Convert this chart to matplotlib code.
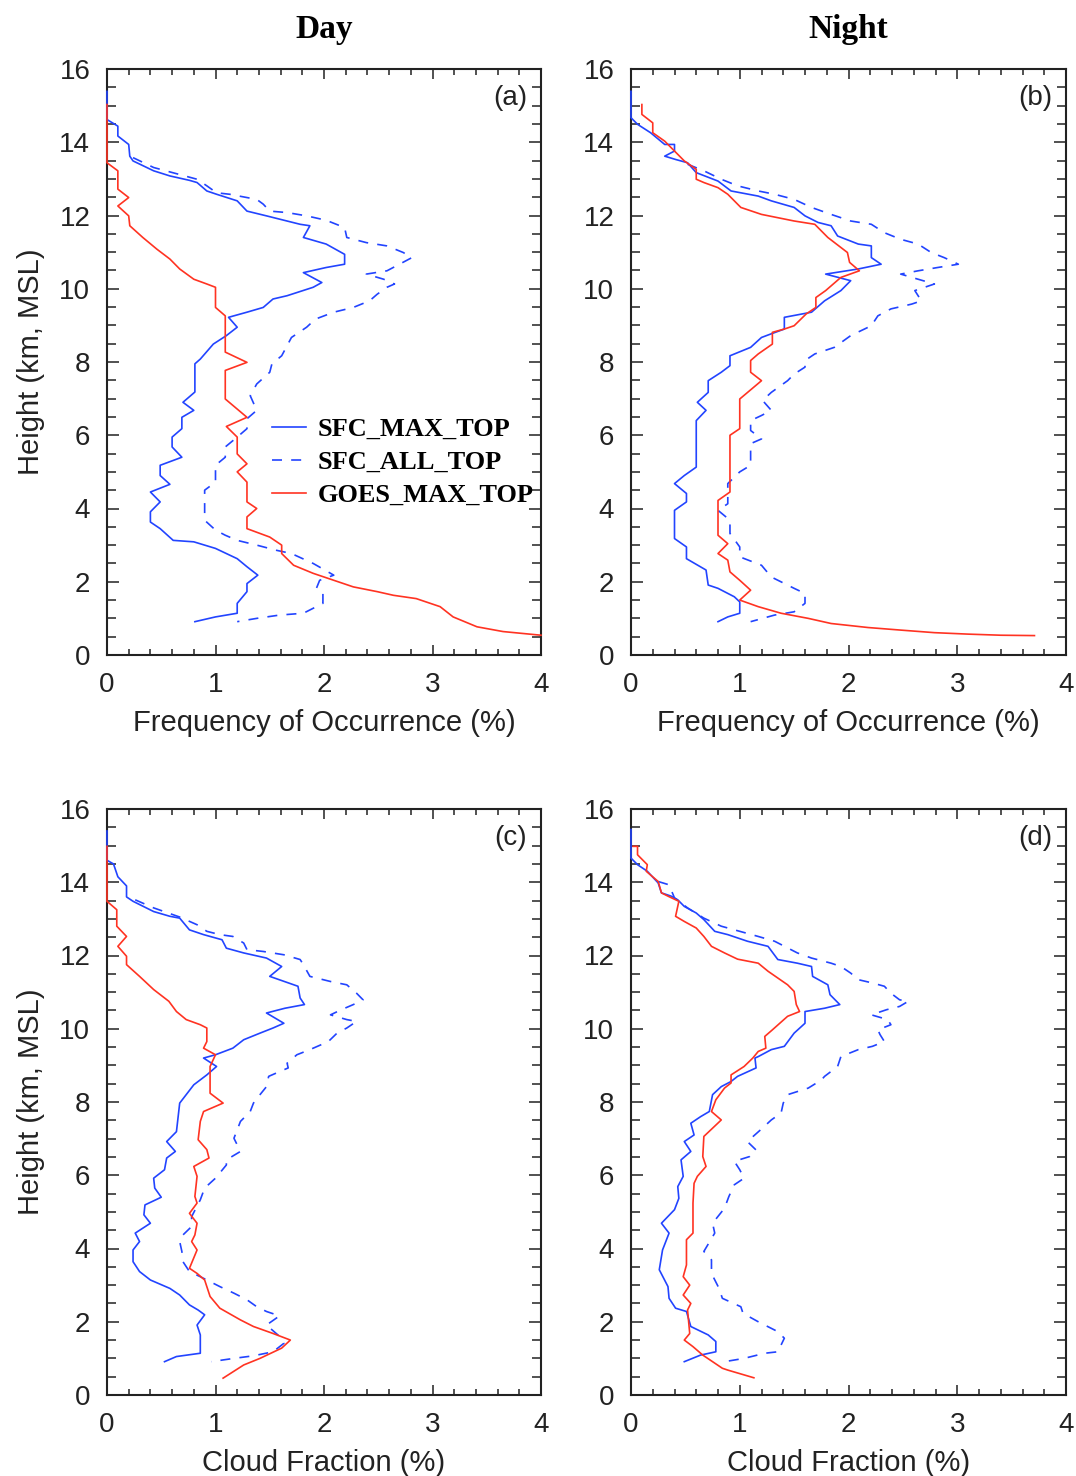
import matplotlib
matplotlib.use("Agg")
import matplotlib.pyplot as plt
from matplotlib.ticker import MultipleLocator
import numpy as np

# (value %, height km) pairs
day_freq_max = [
    (0, 15.39), (0, 14.62), (0.10, 14.44), (0.10, 14.17), (0.20, 13.94), (0.21, 13.62), (0.24, 13.49),
    (0.43, 13.22), (0.58, 13.08), (0.76, 12.96), (0.83, 12.90), (0.92, 12.67), (1.01, 12.58), (1.20, 12.40),
    (1.29, 12.12), (1.47, 11.99), (1.78, 11.76), (1.87, 11.72), (1.81, 11.40), (2.02, 11.22), (2.19, 10.94),
    (2.19, 10.67), (2.02, 10.58), (1.81, 10.44), (1.98, 10.17), (1.90, 10.04), (1.66, 9.81), (1.53, 9.72),
    (1.44, 9.49), (1.29, 9.36), (1.12, 9.22), (1.20, 8.95), (1.10, 8.72), (0.98, 8.49), (0.86, 8.08),
    (0.81, 7.95), (0.81, 7.18), (0.70, 6.90), (0.80, 6.68), (0.69, 6.49), (0.69, 6.18), (0.60, 5.95),
    (0.60, 5.68), (0.69, 5.40), (0.49, 5.18), (0.49, 4.90), (0.58, 4.66), (0.40, 4.45), (0.49, 4.18),
    (0.40, 3.91), (0.40, 3.63), (0.49, 3.45), (0.61, 3.13), (0.80, 3.09), (1.00, 2.91), (1.20, 2.63),
    (1.29, 2.41), (1.39, 2.18), (1.29, 1.95), (1.29, 1.73), (1.20, 1.41), (1.20, 1.14), (1.00, 1.04),
    (0.81, 0.91),
]
day_freq_all = [
    (0.24, 13.58), (0.43, 13.31), (0.83, 12.99), (0.92, 12.81), (1.01, 12.62), (1.13, 12.58), (1.29, 12.49),
    (1.38, 12.44), (1.44, 12.31), (1.50, 12.12), (1.66, 12.08), (1.84, 11.99), (2.02, 11.87), (2.19, 11.67),
    (2.21, 11.40), (2.39, 11.26), (2.58, 11.17), (2.73, 10.99), (2.81, 10.85), (2.67, 10.63), (2.58, 10.49),
    (2.39, 10.40), (2.55, 10.26), (2.65, 10.13), (2.58, 10.04), (2.49, 9.85), (2.42, 9.67), (2.27, 9.49),
    (2.09, 9.36), (1.92, 9.17), (1.84, 8.95), (1.70, 8.67), (1.61, 8.17), (1.52, 7.95), (1.50, 7.72),
    (1.38, 7.40), (1.32, 7.08), (1.38, 6.68), (1.29, 6.45), (1.29, 6.18), (1.20, 5.95), (1.09, 5.68),
    (1.09, 5.40), (1.00, 5.18), (1.00, 4.72), (0.90, 4.50), (0.90, 3.68), (1.00, 3.41), (1.09, 3.27),
    (1.20, 3.13), (1.38, 3.00), (1.56, 2.86), (1.70, 2.77), (1.90, 2.50), (2.09, 2.18), (1.96, 2.04),
    (1.93, 1.82), (1.99, 1.68), (1.99, 1.41), (1.81, 1.14), (1.59, 1.09), (1.38, 1.00), (1.20, 0.91),
]
day_freq_goes = [
    (0, 15.03), (0, 13.44), (0.10, 13.22), (0.10, 12.72), (0.20, 12.49), (0.10, 12.26), (0.20, 11.99),
    (0.21, 11.72), (0.33, 11.40), (0.46, 11.08), (0.58, 10.81), (0.67, 10.54), (0.80, 10.26), (0.92, 10.13),
    (1.00, 10.04), (1.00, 9.49), (1.09, 9.26), (1.09, 8.27), (1.29, 7.99), (1.09, 7.77), (1.09, 6.99),
    (1.29, 6.49), (1.10, 6.24), (1.20, 5.95), (1.20, 5.49), (1.29, 5.22), (1.20, 5.00), (1.29, 4.72),
    (1.29, 4.18), (1.38, 4.00), (1.29, 3.77), (1.29, 3.45), (1.50, 3.22), (1.61, 3.00), (1.61, 2.77),
    (1.72, 2.45), (1.90, 2.23), (2.09, 2.04), (2.27, 1.86), (2.49, 1.73), (2.64, 1.63), (2.85, 1.54),
    (3.07, 1.32), (3.19, 1.04), (3.41, 0.77), (3.65, 0.64), (4.00, 0.54),
]

night_freq_max = [
    (0, 15.39), (0, 14.67), (0.06, 14.49), (0.18, 14.26), (0.31, 13.94), (0.40, 13.94), (0.40, 13.76),
    (0.31, 13.62), (0.41, 13.53), (0.52, 13.44), (0.60, 13.17), (0.80, 12.94), (0.92, 12.67), (1.17, 12.53),
    (1.29, 12.40), (1.50, 12.22), (1.60, 11.99), (1.72, 11.81), (1.84, 11.72), (1.90, 11.44), (2.09, 11.22),
    (2.21, 11.17), (2.21, 10.85), (2.30, 10.67), (2.09, 10.54), (1.79, 10.40), (2.02, 10.22), (1.93, 9.95),
    (1.78, 9.67), (1.66, 9.36), (1.41, 9.22), (1.41, 8.90), (1.29, 8.77), (1.20, 8.67), (1.10, 8.40),
    (0.91, 8.17), (0.91, 7.90), (0.83, 7.72), (0.71, 7.49), (0.71, 7.17), (0.61, 6.90), (0.69, 6.68),
    (0.60, 6.40), (0.60, 5.13), (0.49, 4.90), (0.40, 4.68), (0.51, 4.41), (0.51, 4.18), (0.40, 3.95),
    (0.40, 3.18), (0.51, 2.95), (0.51, 2.63), (0.69, 2.32), (0.71, 1.91), (0.80, 1.82), (0.95, 1.59),
    (1.00, 1.45), (1.00, 1.14), (0.89, 1.04), (0.80, 0.91),
]
night_freq_all = [
    (0.52, 13.40), (0.67, 13.22), (0.83, 12.99), (0.98, 12.81), (1.17, 12.67), (1.32, 12.58), (1.50, 12.44),
    (1.66, 12.22), (1.84, 12.03), (2.02, 11.85), (2.21, 11.76), (2.33, 11.53), (2.48, 11.35), (2.64, 11.22),
    (2.76, 10.99), (2.88, 10.85), (3.01, 10.67), (2.82, 10.58), (2.64, 10.49), (2.48, 10.40), (2.64, 10.26),
    (2.79, 10.13), (2.70, 10.04), (2.61, 9.95), (2.64, 9.81), (2.67, 9.67), (2.58, 9.58), (2.39, 9.45),
    (2.27, 9.26), (2.21, 8.99), (2.02, 8.72), (1.87, 8.40), (1.69, 8.22), (1.60, 8.04), (1.60, 7.86),
    (1.50, 7.67), (1.44, 7.49), (1.29, 7.17), (1.21, 6.95), (1.29, 6.68), (1.20, 6.54), (1.10, 6.40),
    (1.10, 6.13), (1.20, 5.90), (1.10, 5.77), (1.10, 5.18), (1.00, 5.00), (0.89, 4.68), (0.89, 4.13),
    (0.80, 3.95), (0.91, 3.68), (0.91, 3.32), (1.00, 2.95), (1.00, 2.68), (1.20, 2.45), (1.29, 2.13),
    (1.50, 1.82), (1.60, 1.68), (1.60, 1.41), (1.50, 1.18), (1.32, 1.09), (1.10, 0.91),
]
night_freq_goes = [
    (0.10, 15.03), (0.10, 14.76), (0.20, 14.53), (0.20, 14.26), (0.31, 14.03), (0.49, 13.49), (0.60, 13.26),
    (0.60, 12.99), (0.67, 12.90), (0.80, 12.76), (0.89, 12.58), (1.01, 12.22), (1.20, 12.03), (1.50, 11.85),
    (1.69, 11.76), (1.81, 11.40), (1.99, 10.99), (2.01, 10.72), (2.10, 10.49), (1.93, 10.31), (1.79, 9.95),
    (1.70, 9.76), (1.70, 9.49), (1.61, 9.31), (1.50, 8.99), (1.41, 8.90), (1.30, 8.81), (1.30, 8.49),
    (1.17, 8.22), (1.10, 8.04), (1.10, 7.72), (1.20, 7.49), (1.00, 6.99), (1.00, 6.18), (0.91, 6.00),
    (0.91, 4.45), (0.80, 4.22), (0.80, 3.27), (0.89, 3.04), (0.80, 2.77), (0.89, 2.59), (0.91, 2.27),
    (1.00, 2.04), (1.10, 1.77), (1.00, 1.50), (1.17, 1.32), (1.38, 1.14), (1.63, 1.00), (1.84, 0.86),
    (2.18, 0.75), (2.48, 0.68), (2.79, 0.61), (3.10, 0.57), (3.40, 0.54), (3.71, 0.53),
]

day_frac_max = [
    (0, 15.40), (0, 14.60), (0.06, 14.50), (0.10, 14.15), (0.18, 13.90), (0.18, 13.60), (0.24, 13.48),
    (0.43, 13.20), (0.58, 13.07), (0.67, 13.02), (0.76, 12.70), (0.89, 12.57), (1.06, 12.43), (1.10, 12.20),
    (1.26, 12.07), (1.47, 11.93), (1.61, 11.70), (1.50, 11.43), (1.76, 11.16), (1.78, 10.84), (1.82, 10.66),
    (1.64, 10.56), (1.47, 10.43), (1.63, 10.15), (1.53, 10.02), (1.41, 9.88), (1.26, 9.70), (1.16, 9.47),
    (1.00, 9.29), (0.89, 9.20), (1.01, 8.97), (0.92, 8.74), (0.80, 8.47), (0.67, 7.97), (0.64, 7.19),
    (0.55, 6.92), (0.63, 6.65), (0.55, 6.47), (0.53, 6.15), (0.43, 5.92), (0.44, 5.65), (0.50, 5.40),
    (0.35, 5.19), (0.34, 4.92), (0.40, 4.69), (0.26, 4.42), (0.30, 4.19), (0.24, 3.96), (0.24, 3.64),
    (0.30, 3.37), (0.40, 3.14), (0.58, 2.91), (0.67, 2.73), (0.76, 2.46), (0.84, 2.32), (0.90, 2.19),
    (0.83, 1.91), (0.86, 1.64), (0.86, 1.14), (0.64, 1.05), (0.53, 0.91),
]
day_frac_all = [
    (0.26, 13.52), (0.43, 13.30), (0.67, 13.05), (0.83, 12.84), (0.92, 12.66), (1.04, 12.57), (1.16, 12.52),
    (1.26, 12.34), (1.29, 12.16), (1.44, 12.11), (1.63, 12.02), (1.78, 11.89), (1.81, 11.75), (1.87, 11.43),
    (2.06, 11.29), (2.21, 11.20), (2.30, 10.97), (2.36, 10.79), (2.27, 10.66), (2.16, 10.52), (2.06, 10.38),
    (2.21, 10.25), (2.30, 10.20), (2.21, 10.02), (2.12, 9.88), (2.04, 9.65), (1.87, 9.43), (1.75, 9.29),
    (1.66, 9.06), (1.67, 8.93), (1.56, 8.79), (1.49, 8.70), (1.47, 8.42), (1.41, 8.20), (1.35, 7.97),
    (1.32, 7.74), (1.23, 7.47), (1.17, 7.01), (1.23, 6.65), (1.10, 6.42), (1.10, 6.28), (1.00, 5.92),
    (0.90, 5.65), (0.86, 5.33), (0.78, 4.87), (0.78, 4.60), (0.70, 4.37), (0.67, 4.19), (0.69, 3.92),
    (0.70, 3.64), (0.76, 3.37), (0.86, 3.23), (1.04, 2.96), (1.17, 2.78), (1.29, 2.60), (1.38, 2.41),
    (1.47, 2.28), (1.59, 2.16), (1.47, 1.91), (1.61, 1.55), (1.63, 1.41), (1.53, 1.18), (1.35, 1.07),
    (1.17, 1.00), (0.96, 0.91),
]
day_frac_goes = [
    (0, 14.98), (0, 13.48), (0.09, 13.25), (0.09, 12.80), (0.18, 12.52), (0.10, 12.25), (0.18, 11.98),
    (0.18, 11.75), (0.30, 11.43), (0.43, 11.07), (0.57, 10.75), (0.64, 10.47), (0.73, 10.25), (0.86, 10.11),
    (0.92, 10.02), (0.92, 9.65), (0.89, 9.47), (1.00, 9.29), (0.95, 8.97), (0.95, 8.24), (1.07, 7.97),
    (0.89, 7.74), (0.86, 7.47), (0.84, 6.97), (0.92, 6.70), (0.94, 6.47), (0.80, 6.24), (0.83, 5.97),
    (0.81, 5.42), (0.83, 5.24), (0.76, 4.96), (0.83, 4.69), (0.81, 4.37), (0.78, 4.19), (0.83, 3.96),
    (0.76, 3.46), (0.83, 3.32), (0.90, 3.14), (0.95, 2.69), (1.04, 2.37), (1.23, 2.05), (1.35, 1.87),
    (1.53, 1.68), (1.61, 1.59), (1.69, 1.50), (1.61, 1.28), (1.41, 1.00), (1.26, 0.82), (1.07, 0.46),
]

night_frac_max = [
    (0, 15.44), (0, 14.66), (0.06, 14.48), (0.15, 14.30), (0.25, 13.98), (0.28, 13.71), (0.37, 13.62),
    (0.43, 13.52), (0.49, 13.34), (0.60, 13.16), (0.67, 12.98), (0.77, 12.66), (0.89, 12.57), (1.07, 12.39),
    (1.26, 12.25), (1.35, 11.89), (1.53, 11.79), (1.66, 11.70), (1.67, 11.43), (1.81, 11.20), (1.83, 10.93),
    (1.92, 10.66), (1.78, 10.56), (1.60, 10.47), (1.60, 10.15), (1.50, 9.88), (1.41, 9.52), (1.29, 9.43),
    (1.17, 9.24), (1.14, 9.20), (1.15, 8.93), (0.98, 8.70), (0.92, 8.56), (0.83, 8.42), (0.75, 8.20),
    (0.72, 7.74), (0.64, 7.60), (0.55, 7.42), (0.58, 7.10), (0.49, 6.92), (0.55, 6.65), (0.46, 6.42),
    (0.48, 5.97), (0.43, 5.69), (0.44, 5.37), (0.40, 5.06), (0.28, 4.69), (0.35, 4.42), (0.29, 3.96),
    (0.26, 3.42), (0.34, 2.96), (0.35, 2.64), (0.41, 2.37), (0.51, 2.28), (0.55, 1.87), (0.71, 1.64),
    (0.78, 1.46), (0.78, 1.18), (0.64, 1.09), (0.49, 0.91),
]
night_frac_all = [
    (0.25, 14.02), (0.35, 13.93), (0.40, 13.57), (0.52, 13.30), (0.67, 13.02), (0.83, 12.80), (1.00, 12.66),
    (1.17, 12.52), (1.32, 12.39), (1.53, 12.07), (1.66, 11.93), (1.84, 11.79), (1.93, 11.70), (2.02, 11.52),
    (2.09, 11.34), (2.22, 11.25), (2.33, 11.16), (2.39, 10.97), (2.47, 10.79), (2.55, 10.75), (2.47, 10.61),
    (2.35, 10.52), (2.21, 10.38), (2.36, 10.25), (2.39, 10.11), (2.27, 9.97), (2.29, 9.84), (2.33, 9.65),
    (2.22, 9.52), (2.09, 9.43), (1.93, 9.24), (1.90, 8.97), (1.78, 8.70), (1.75, 8.60), (1.63, 8.38),
    (1.44, 8.20), (1.40, 7.97), (1.38, 7.70), (1.29, 7.51), (1.21, 7.29), (1.07, 6.92), (1.15, 6.69),
    (1.09, 6.51), (0.95, 6.38), (1.00, 6.15), (1.04, 5.92), (0.95, 5.74), (0.90, 5.42), (0.86, 5.10),
    (0.75, 4.69), (0.77, 4.42), (0.67, 3.92), (0.74, 3.69), (0.74, 3.32), (0.81, 2.91), (0.84, 2.64),
    (1.01, 2.41), (1.03, 2.23), (1.17, 2.00), (1.35, 1.73), (1.41, 1.55), (1.35, 1.18), (1.23, 1.14),
    (1.04, 1.00), (0.86, 0.91),
]
night_frac_goes = [
    (0.02, 14.98), (0.06, 14.98), (0.06, 14.75), (0.15, 14.48), (0.14, 14.30), (0.25, 14.02), (0.28, 13.71),
    (0.34, 13.62), (0.44, 13.48), (0.41, 13.07), (0.49, 12.93), (0.60, 12.75), (0.67, 12.52), (0.74, 12.25),
    (0.86, 12.07), (0.98, 11.90), (1.17, 11.79), (1.26, 11.57), (1.44, 11.20), (1.50, 11.02), (1.52, 10.66),
    (1.55, 10.47), (1.44, 10.34), (1.30, 9.97), (1.23, 9.79), (1.24, 9.47), (1.17, 9.38), (1.12, 9.20),
    (1.04, 8.97), (0.92, 8.74), (0.92, 8.52), (0.86, 8.38), (0.78, 8.06), (0.74, 7.74), (0.83, 7.51),
    (0.67, 7.06), (0.66, 6.51), (0.69, 6.24), (0.61, 5.97), (0.58, 5.78), (0.57, 5.24), (0.57, 4.42),
    (0.51, 4.24), (0.51, 3.55), (0.48, 3.23), (0.54, 3.00), (0.48, 2.73), (0.55, 2.50), (0.52, 2.32),
    (0.54, 1.68), (0.49, 1.50), (0.57, 1.32), (0.66, 1.09), (0.77, 0.87), (0.84, 0.73), (0.89, 0.68),
    (1.13, 0.47),
]

series_names = ["SFC_MAX_TOP", "SFC_ALL_TOP", "GOES_MAX_TOP"]
panel_tags = ["(a)", "(b)", "(c)", "(d)"]
column_titles = ["Day", "Night"]
x_labels = ["Frequency of Occurrence (%)", "Cloud Fraction (%)"]
y_label = "Height (km, MSL)"

BLUE = "#2244ff"
RED = "#ff3322"
INK = "#222222"
SANS = "Liberation Sans"
SERIF = "Liberation Serif"

fig = plt.figure(figsize=(10.76, 14.76), dpi=100)
W, H = 1076.0, 1476.0

# pixel boxes (left, top, right, bottom) for the four panels
boxes = [(107, 69, 541, 655), (631, 69, 1066, 655), (107, 809, 541, 1395), (631, 809, 1066, 1395)]
panel_data = [
    (day_freq_max, day_freq_all, day_freq_goes),
    (night_freq_max, night_freq_all, night_freq_goes),
    (day_frac_max, day_frac_all, day_frac_goes),
    (night_frac_max, night_frac_all, night_frac_goes),
]
styles = [
    dict(color=BLUE, ls="-"),
    dict(color=BLUE, ls=(0, (6, 5.5))),
    dict(color=RED, ls="-"),
]

for i, (box, data) in enumerate(zip(boxes, panel_data)):
    l, t, r, b = box
    ax = fig.add_axes([l / W, 1 - b / H, (r - l) / W, (b - t) / H])
    for name, pts, st in zip(series_names, data, styles):
        arr = np.array(pts)
        ax.plot(arr[:, 0], arr[:, 1], lw=1.2, zorder=3, clip_on=False, label=name, **st)

    ax.set_xlim(0, 4)
    ax.set_ylim(0, 16)
    ax.xaxis.set_major_locator(MultipleLocator(1))
    ax.xaxis.set_minor_locator(MultipleLocator(0.2))
    ax.yaxis.set_major_locator(MultipleLocator(2))
    ax.yaxis.set_minor_locator(MultipleLocator(0.5))
    ax.tick_params(which="both", direction="in", top=True, right=True, width=1.1, color=INK)
    ax.tick_params(axis="x", which="major", length=7.5, pad=12)
    ax.tick_params(axis="x", which="minor", length=4)
    ax.tick_params(axis="y", which="major", length=8.5, pad=12)
    ax.tick_params(axis="y", which="minor", length=6.5)
    for lab in ax.get_xticklabels() + ax.get_yticklabels():
        lab.set_fontfamily(SANS)
        lab.set_fontsize(20)
        lab.set_color(INK)
    for sp in ax.spines.values():
        sp.set_linewidth(1.5)
        sp.set_color(INK)

    ax.set_xlabel(x_labels[i // 2], family=SANS, fontsize=21, color=INK, labelpad=8)
    if i % 2 == 0:
        ax.set_ylabel(y_label, family=SANS, fontsize=21, color=INK, labelpad=10)
    if i < 2:
        ax.set_title(column_titles[i], family=SERIF, fontweight="bold", fontsize=24, pad=22)

    ax.text(0.968, 0.95, panel_tags[i], transform=ax.transAxes, ha="right", va="center",
            family=SANS, fontsize=20, color=INK)

    if i == 0:
        ax.legend(loc="upper left", bbox_to_anchor=(0.38, 0.405), frameon=False,
                  prop=dict(family=SERIF, weight="bold", size=19),
                  handlelength=1.3, handletextpad=0.45, labelspacing=0.36,
                  borderpad=0, borderaxespad=0)

fig.savefig("out.png", dpi=100)
